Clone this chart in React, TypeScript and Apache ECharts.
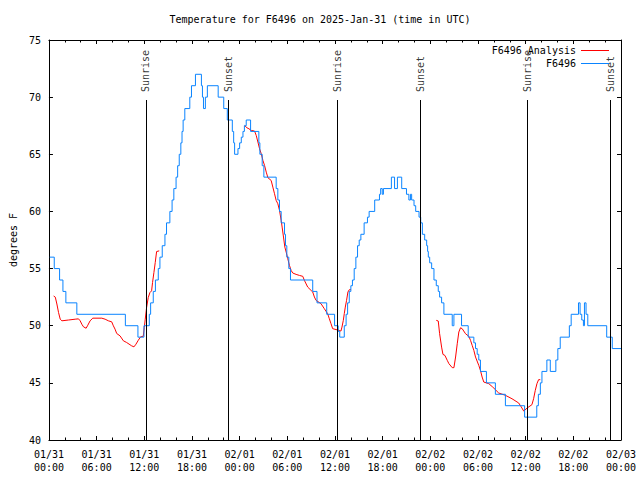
import React, { useEffect, useRef } from "react";
import * as echarts from "echarts";

const titleText = "Temperature for F6496 on 2025-Jan-31 (time in UTC)";
const yAxisName = "degrees F";
const seriesObsName = "F6496";
const seriesAnaName = "F6496 Analysis";

// x axis: hours since 01/31 00:00 UTC
const xTickDates = ["01/31", "01/31", "01/31", "01/31", "02/01", "02/01", "02/01", "02/01", "02/02", "02/02", "02/02", "02/02", "02/03"];
const xTickTimes = ["00:00", "06:00", "12:00", "18:00", "00:00", "06:00", "12:00", "18:00", "00:00", "06:00", "12:00", "18:00", "00:00"];

const sunEventHours = [12.2, 22.62, 36.29, 46.71, 60.25, 70.66];
const sunEventNames = ["Sunrise", "Sunset", "Sunrise", "Sunset", "Sunrise", "Sunset"];

// observed station temperature (value held until next point)
const obsData: [number, number][] = [
  [0.1, 56], [0.67, 55], [1.34, 54], [1.76, 53], [2.13, 52], [3.51, 51], [9.62, 50], [11.2, 49], [11.96, 50],
  [12.63, 51], [12.8, 52], [13.13, 53], [13.4, 54], [13.76, 55], [13.97, 56], [14.26, 57], [14.6, 58], [14.8, 59],
  [15.22, 60], [15.5, 61], [15.72, 62], [16.0, 63], [16.2, 64], [16.4, 65], [16.6, 66], [16.75, 67], [16.89, 68],
  [17.1, 69], [17.73, 70], [17.94, 71], [18.44, 72], [19.19, 71], [19.32, 70], [19.45, 69], [19.69, 70], [19.94, 71],
  [21.3, 70], [22.0, 69], [22.45, 68], [23.08, 67], [23.25, 66], [23.37, 65], [23.79, 65.5], [24.0, 66], [24.21, 66.5],
  [24.42, 67], [24.6, 67.5], [24.83, 68], [25.38, 67], [26.42, 66], [26.55, 65], [26.84, 64], [27.05, 63], [28.6, 62],
  [28.81, 61], [29.02, 60], [29.23, 59], [29.65, 58], [29.77, 57], [29.94, 56], [30.19, 55], [30.4, 54], [33.2, 53],
  [33.74, 52], [34.96, 51], [35.95, 50], [36.4, 49.5], [36.6, 49], [37.17, 50], [37.4, 51], [37.59, 52], [37.8, 53],
  [38.0, 53.5], [38.2, 54], [38.42, 55], [38.63, 56], [38.84, 57], [39.05, 57.5], [39.26, 58], [39.67, 59], [40.09, 59.5],
  [40.3, 60], [41.0, 61], [41.6, 61.5], [41.75, 62], [41.95, 61.5], [42.1, 62], [43.1, 63], [43.5, 62], [43.86, 63],
  [44.4, 62], [45.0, 61.5], [45.3, 61], [45.5, 61.5], [45.65, 61], [45.95, 60.5], [46.16, 60], [46.58, 59.5], [46.79, 59],
  [47.0, 58], [47.29, 57.5], [47.54, 57], [47.66, 56.5], [47.75, 56], [47.92, 55.5], [48.17, 55], [48.46, 54], [48.75, 53.5],
  [49.0, 53], [49.17, 52.5], [49.42, 52], [49.71, 51], [50.76, 50], [50.97, 51], [51.93, 50], [52.77, 49], [53.48, 48.5],
  [53.69, 48], [53.9, 47.5], [54.1, 47], [54.31, 46], [55.06, 45], [56.19, 44], [57.45, 43], [59.87, 42], [61.4, 43],
  [61.6, 44], [61.85, 45], [62.05, 46], [62.67, 47], [63.1, 46], [63.8, 47], [64.05, 48], [64.35, 49], [65.5, 50],
  [65.73, 51], [66.65, 52], [66.85, 51], [67.06, 50.5], [67.27, 50], [67.4, 52], [67.6, 51], [67.82, 50], [70.2, 49],
  [70.9, 48], [72, 48],
];

// analysis segments
const anaSeg1: [number, number][] = [
  [0.59, 52.6], [0.8, 52.5], [1.0, 51.9], [1.21, 51.15], [1.42, 50.57], [1.63, 50.43], [2.47, 50.5], [3.3, 50.57],
  [3.72, 50.6], [3.93, 50.43], [4.14, 50.13], [4.35, 49.9], [4.68, 49.78], [4.85, 49.99], [5.18, 50.43], [5.52, 50.66],
  [6.65, 50.66], [7.07, 50.57], [7.48, 50.43], [7.9, 50.34], [8.11, 49.99], [8.32, 49.7], [8.53, 49.32], [8.95, 49.11],
  [9.37, 48.68], [9.78, 48.53], [10.41, 48.24], [10.7, 48.15], [10.95, 48.38], [11.25, 48.73], [11.54, 49.03],
  [11.87, 49.08], [12.0, 49.84], [12.12, 50.57], [12.29, 51.59], [12.5, 52.47], [12.71, 52.9], [12.92, 53.05],
  [13.04, 53.78], [13.21, 54.65], [13.38, 55.53], [13.55, 56.49], [13.88, 56.55],
];
const anaSeg2: [number, number][] = [
  [24.63, 67.52], [24.92, 67.32], [25.17, 67.23], [25.47, 67.09], [25.88, 67.03], [26.09, 66.65], [26.3, 66.07],
  [26.51, 65.48], [26.72, 65.05], [26.93, 64.46], [27.14, 64.02], [27.35, 63.44], [27.56, 62.95], [27.97, 62.71],
  [28.18, 62.13], [28.39, 61.55], [28.6, 60.96], [28.81, 60.67], [29.02, 60.09], [29.23, 59.21], [29.35, 58.63],
  [29.52, 57.76], [29.69, 56.88], [29.86, 56.44], [30.06, 55.86], [30.27, 55.28], [30.48, 54.84], [30.69, 54.61],
  [31.11, 54.49], [31.53, 54.4], [31.95, 54.32], [32.15, 53.97], [32.57, 53.38], [32.99, 53.09], [33.2, 52.95],
  [33.41, 52.51], [33.62, 52.22], [34.24, 51.93], [34.66, 51.49], [35.08, 51.05], [35.29, 50.61], [35.5, 50.18],
  [35.71, 49.74], [36.54, 49.59], [36.75, 49.53], [36.88, 49.88], [37.05, 50.47], [37.17, 51.05], [37.3, 51.63],
  [37.46, 52.22], [37.63, 52.95], [37.8, 53.15], [38.01, 53.15],
];
const anaSeg3: [number, number][] = [
  [48.75, 50.47], [49.0, 50.41], [49.17, 49.3], [49.42, 48.13], [49.59, 47.49], [49.84, 47.4], [50.13, 46.97],
  [50.34, 46.68], [50.76, 46.33], [50.97, 46.33], [51.18, 47.26], [51.39, 48.42], [51.59, 49.45], [51.8, 49.82],
  [52.01, 49.74], [52.43, 49.3], [52.85, 49.07], [53.06, 48.72], [53.27, 48.28], [53.48, 47.84], [53.69, 47.26],
  [54.1, 46.53], [54.31, 46.09], [54.52, 45.51], [54.73, 45.07], [55.36, 44.93], [55.86, 44.63], [56.61, 44.11],
  [57.45, 43.91], [58.28, 43.61], [59.12, 43.24], [59.45, 42.89], [59.75, 42.54], [60.25, 42.83], [60.79, 43.09],
  [61.0, 43.61], [61.21, 44.34], [61.42, 44.93], [61.63, 45.28], [61.84, 45.28],
];

const MONO = "'DejaVu Sans Mono', 'Liberation Mono', monospace";
const BLUE = "#0a84ff";
const RED = "#ff0000";
const LINE_TOP = 69.75;
const LABEL_Y = 70.45;

export default function App() {
  const ref = useRef<HTMLDivElement>(null);
  useEffect(() => {
    if (!ref.current) return;
    const chart = echarts.init(ref.current, null, { renderer: "svg" });
    const xFmt = (v: number) => {
      const i = Math.round(v / 6);
      return (xTickDates[i] ?? "") + "\n" + (xTickTimes[i] ?? "");
    };
    const txt = { fontFamily: MONO, fontSize: 10, color: "#000" };
    const baseX = {
      type: "value",
      min: 0,
      max: 72,
      interval: 6,
      axisLine: { show: true, onZero: false, lineStyle: { color: "#000", width: 1 } },
      axisTick: { show: true, inside: true, length: 4, lineStyle: { color: "#000" } },
      minorTick: { show: true, splitNumber: 3, length: 2.5, lineStyle: { color: "#000" } },
      splitLine: { show: false },
      minorSplitLine: { show: false },
    };
    const baseY = {
      type: "value",
      min: 40,
      max: 75,
      interval: 5,
      axisLine: { show: true, onZero: false, lineStyle: { color: "#000", width: 1 } },
      axisTick: { show: true, inside: true, length: 4, lineStyle: { color: "#000" } },
      splitLine: { show: false },
    };
    const anaStyle = {
      type: "line",
      name: seriesAnaName,
      xAxisIndex: 0,
      yAxisIndex: 0,
      symbol: "none",
      showSymbol: false,
      lineStyle: { color: RED, width: 1 },
      itemStyle: { color: RED },
      silent: true,
    };
    chart.setOption({
      animation: false,
      backgroundColor: "#fff",
      title: {
        text: titleText,
        left: "center",
        top: 14,
        padding: 0,
        textStyle: { ...txt, fontWeight: "normal" },
      },
      grid: { left: 47, right: 19, top: 40, bottom: 40 },
      legend: {
        data: [seriesAnaName, seriesObsName],
        orient: "vertical",
        right: 31,
        top: 44,
        padding: 0,
        align: "right",
        icon: "rect",
        itemWidth: 28,
        itemHeight: 1,
        itemGap: 0,
        textStyle: { ...txt, lineHeight: 13 },
      },
      xAxis: [
        {
          ...baseX,
          position: "bottom",
          axisLabel: { ...txt, formatter: xFmt, margin: 8, lineHeight: 13 },
        },
        { ...baseX, position: "top", axisLabel: { show: false } },
      ],
      yAxis: [
        {
          ...baseY,
          position: "left",
          name: yAxisName,
          nameLocation: "middle",
          nameGap: 30,
          nameRotate: 90,
          nameTextStyle: { ...txt },
          axisLabel: { ...txt, margin: 8 },
        },
        { ...baseY, position: "right", axisLabel: { show: false } },
      ],
      series: [
        { ...anaStyle, data: anaSeg1 },
        { ...anaStyle, data: anaSeg2 },
        { ...anaStyle, data: anaSeg3 },
        {
          type: "line",
          name: seriesObsName,
          xAxisIndex: 0,
          yAxisIndex: 0,
          step: "end",
          symbol: "none",
          showSymbol: false,
          lineStyle: { color: BLUE, width: 1 },
          itemStyle: { color: BLUE },
          data: obsData,
          silent: true,
        },
        {
          type: "scatter",
          name: "sun",
          xAxisIndex: 0,
          yAxisIndex: 0,
          symbolSize: 0,
          silent: true,
          data: sunEventHours.map((h, i) => ({ value: [h, LABEL_Y], name: sunEventNames[i] })),
          label: {
            show: true,
            position: "inside",
            rotate: 90,
            align: "left",
            verticalAlign: "middle",
            formatter: (p: any) => p.name,
            ...txt,
          },
          markLine: {
            silent: true,
            symbol: "none",
            label: { show: false },
            lineStyle: { color: "#000", width: 1, type: "solid" },
            data: sunEventHours.map((h) => [{ coord: [h, 40] }, { coord: [h, LINE_TOP] }]),
          },
        },
      ],
    });
    return () => chart.dispose();
  }, []);
  return (
    <div
      ref={ref}
      style={{ position: "fixed", left: 0, top: 0, width: 640, height: 480, background: "#fff" }}
    />
  );
}
